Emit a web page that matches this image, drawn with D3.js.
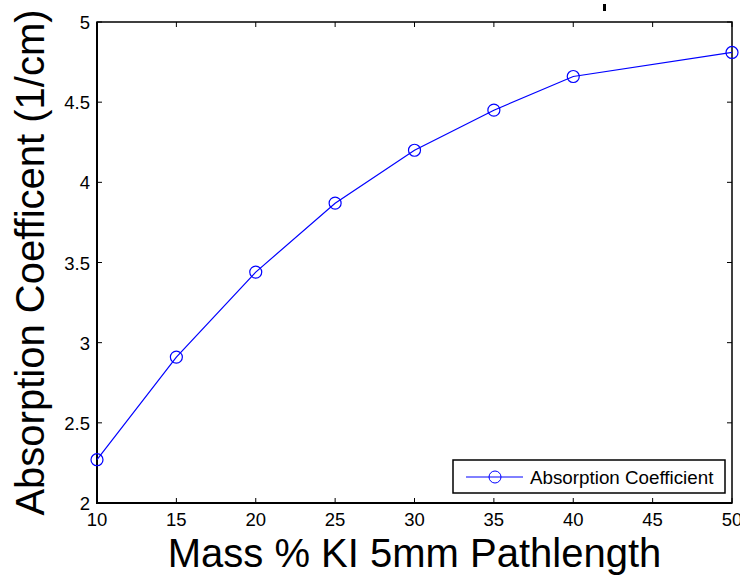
<!DOCTYPE html>
<html>
<head>
<meta charset="utf-8">
<script src="https://cdn.jsdelivr.net/npm/d3@7"></script>
<style>
  body { margin: 0; background: #fff; }
  svg { display: block; font-family: "Liberation Sans", Arial, sans-serif; }
</style>
</head>
<body>
<svg></svg>
<script>
var width = 740;
var height = 576;

var margin = { left: 97, top: 22, right: 8, bottom: 73 };

// data
var massPct = [10, 15, 20, 25, 30, 35, 40, 50];
var absorption = [2.27, 2.91, 3.44, 3.87, 4.20, 4.45, 4.66, 4.81];
var xTicks = [10, 15, 20, 25, 30, 35, 40, 45, 50];
var yTicks = [2, 2.5, 3, 3.5, 4, 4.5, 5];

var svg = d3.select("svg")
  .attr("width", width)
  .attr("height", height);

var x = d3.scaleLinear()
  .domain([10, 50])
  .range([margin.left, width - margin.right]);

var y = d3.scaleLinear()
  .domain([2, 5])
  .range([height - margin.bottom, margin.top]);

var x0 = x.range()[0], x1 = x.range()[1];
var y0 = y.range()[0], y1 = y.range()[1];
var tickLen = 5;

// inner ticks on all four sides
var ticks = svg.append("g").attr("stroke", "#000").attr("stroke-width", 1);
xTicks.forEach(function(t){
  ticks.append("line").attr("x1", x(t)).attr("x2", x(t)).attr("y1", y0).attr("y2", y0 - tickLen);
  ticks.append("line").attr("x1", x(t)).attr("x2", x(t)).attr("y1", y1).attr("y2", y1 + tickLen);
});
yTicks.forEach(function(t){
  ticks.append("line").attr("x1", x0).attr("x2", x0 + tickLen).attr("y1", y(t)).attr("y2", y(t));
  ticks.append("line").attr("x1", x1).attr("x2", x1 - tickLen).attr("y1", y(t)).attr("y2", y(t));
});

// tick labels
svg.append("g").selectAll("text")
  .data(xTicks)
  .enter()
  .append("text")
  .attr("x", d => x(d))
  .attr("y", y0 + 23)
  .attr("text-anchor", "middle")
  .style("font-size", "18.5px")
  .text(d => d);

svg.append("g").selectAll("text")
  .data(yTicks)
  .enter()
  .append("text")
  .attr("x", x0 - 7)
  .attr("y", d => y(d) + 7)
  .attr("text-anchor", "end")
  .style("font-size", "18.5px")
  .text(d => d);

// axes box
svg.append("rect")
  .attr("x", x0)
  .attr("y", y1)
  .attr("width", x1 - x0)
  .attr("height", y0 - y1)
  .attr("fill", "none")
  .attr("stroke", "#000")
  .attr("stroke-width", 1.5);
svg.append("path")
  .attr("d", "M" + x0 + "," + y1 + "V" + y0 + "H" + x1)
  .attr("fill", "none")
  .attr("stroke", "#000")
  .attr("stroke-width", 2);

// series
var line = d3.line()
  .x((d, i) => x(massPct[i]))
  .y(d => y(d));

svg.append("path")
  .datum(absorption)
  .attr("d", line)
  .attr("fill", "none")
  .attr("stroke", "#0000ff")
  .attr("stroke-width", 1.2);

svg.append("g").selectAll("circle")
  .data(absorption)
  .enter()
  .append("circle")
  .attr("cx", (d, i) => x(massPct[i]))
  .attr("cy", d => y(d))
  .attr("r", 6)
  .attr("fill", "none")
  .attr("stroke", "#0000ff")
  .attr("stroke-width", 1.2);

// legend
var legend = svg.append("g").attr("transform", "translate(453,460)");
legend.append("rect")
  .attr("width", 272)
  .attr("height", 33)
  .attr("fill", "#fff")
  .attr("stroke", "#000")
  .attr("stroke-width", 1.5);
legend.append("line")
  .attr("x1", 13).attr("x2", 70)
  .attr("y1", 17).attr("y2", 17)
  .attr("stroke", "#0000ff");
legend.append("circle")
  .attr("cx", 42).attr("cy", 17).attr("r", 6)
  .attr("fill", "none").attr("stroke", "#0000ff");
legend.append("text")
  .attr("x", 77)
  .attr("y", 23.5)
  .style("font-size", "18.8px")
  .text("Absorption Coefficient");

// axis titles
svg.append("text")
  .attr("x", (x0 + x1) / 2)
  .attr("y", 567)
  .attr("text-anchor", "middle")
  .style("font-size", "40px")
  .text("Mass % KI 5mm Pathlength");

svg.append("text")
  .attr("transform", "translate(44," + ((y0 + y1) / 2) + ") rotate(-90)")
  .attr("text-anchor", "middle")
  .style("font-size", "40px")
  .text("Absorption Coefficent (1/cm)");

// cut-off remnant of the title above the axes
svg.append("rect")
  .attr("x", 603).attr("y", 4)
  .attr("width", 3).attr("height", 7)
  .attr("fill", "#000");
</script>
</body>
</html>
